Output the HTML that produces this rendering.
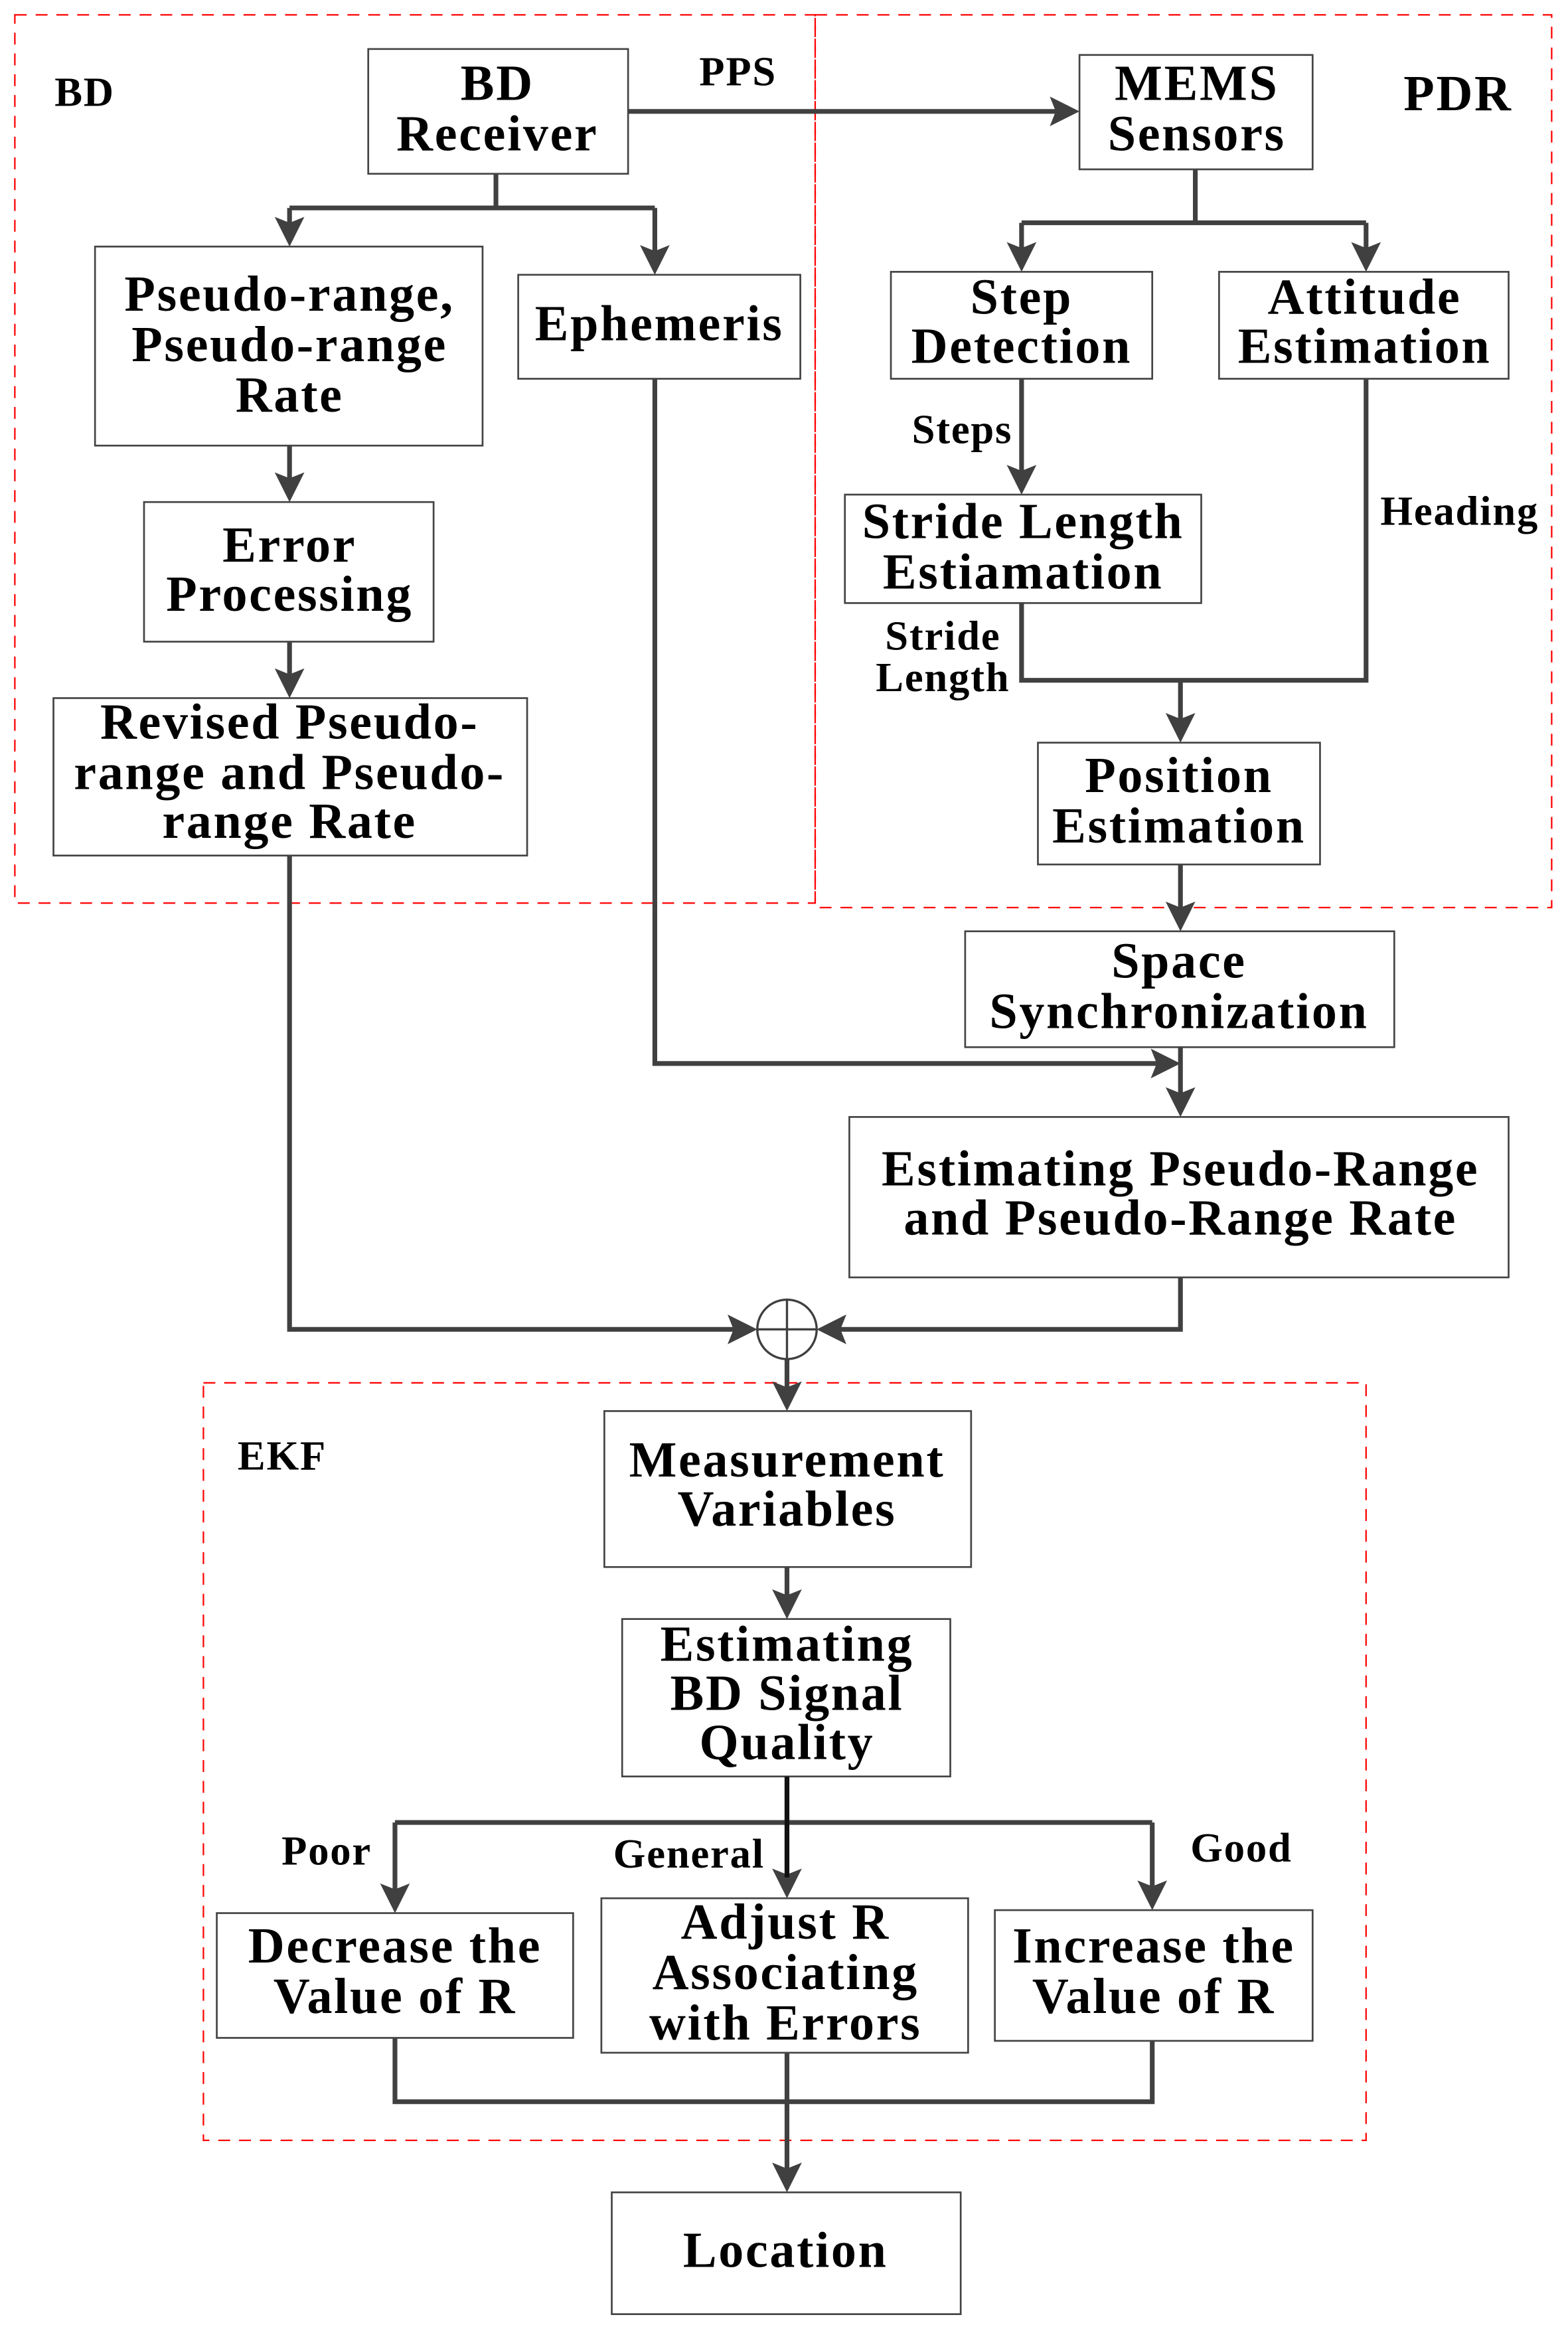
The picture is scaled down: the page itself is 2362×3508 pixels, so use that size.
<!DOCTYPE html>
<html><head><meta charset="utf-8"><style>html,body{margin:0;padding:0;background:#fff}svg{display:block}</style></head><body>
<svg width="2362" height="3508" viewBox="0 0 1056 1568" preserveAspectRatio="none" xmlns="http://www.w3.org/2000/svg">
<style>
.b{fill:#fff;stroke:#444;stroke-width:1.2}
.l{fill:none;stroke:#404040;stroke-width:3.2}
.d{fill:none;stroke:#f00;stroke-width:1;stroke-dasharray:8,6}
text{font-family:"Liberation Serif",serif;font-weight:bold;fill:#000;text-anchor:middle;dominant-baseline:central}
.t{font-size:34px;letter-spacing:1.2px}
.s{font-size:28px;letter-spacing:0.8px}
.ah{fill:#404040}
</style>
<rect class="d" x="10" y="10" width="539" height="598"/>
<rect class="d" x="549" y="10" width="496" height="601"/>
<rect class="d" x="137" y="931" width="783" height="510"/>

<g class="l">
<path d="M423 75H715"/>
<path d="M334 117V140M195 140H441M195 140V154M441 140V173"/>
<path d="M195 300V326M195 432V458"/>
<path d="M195 576V895H498"/>
<path d="M441 255V716H783"/>
<path d="M805 114V150M688 150H920M688 150V171M920 150V171"/>
<path d="M688 255V321"/>
<path d="M920 255V458H688V406M795 458V488"/>
<path d="M795 582V615M795 705V740"/>
<path d="M795 860V895H562"/>
<path d="M530 915V938M530 1055V1078"/>
<path d="M530 1196V1264M266 1227H776M266 1227V1276M776 1227V1274"/>
<path d="M266 1372V1415H776V1374M530 1382V1462"/>
</g>
<g class="ah">
<path d="M727 75L707 65L711 75L707 85Z"/>
<path d="M195 166L185 146L195 150L205 146Z"/>
<path d="M441 185L431 165L441 169L451 165Z"/>
<path d="M195 338L185 318L195 322L205 318Z"/>
<path d="M195 470L185 450L195 454L205 450Z"/>
<path d="M510 895L490 885L494 895L490 905Z"/>
<path d="M795 716L775 706L779 716L775 726Z"/>
<path d="M688 183L678 163L688 167L698 163Z"/>
<path d="M920 183L910 163L920 167L930 163Z"/>
<path d="M688 333L678 313L688 317L698 313Z"/>
<path d="M795 500L785 480L795 484L805 480Z"/>
<path d="M795 627L785 607L795 611L805 607Z"/>
<path d="M795 752L785 732L795 736L805 732Z"/>
<path d="M550 895L570 885L566 895L570 905Z"/>
<path d="M530 950L520 930L530 934L540 930Z"/>
<path d="M530 1090L520 1070L530 1074L540 1070Z"/>
<path d="M530 1278L520 1258L530 1262L540 1258Z"/>
<path d="M266 1288L256 1268L266 1272L276 1268Z"/>
<path d="M776 1286L766 1266L776 1270L786 1266Z"/>
<path d="M530 1476L520 1456L530 1460L540 1456Z"/>
</g>
<circle cx="530" cy="895" r="20" fill="#fff" stroke="#404040" stroke-width="1.5"/>
<path d="M510 895H550M530 875V915" stroke="#404040" stroke-width="1.5"/>

<rect class="b" x="248" y="33" width="175" height="84"/>
<text class="t" x="335" y="56">BD</text><text class="t" x="335" y="90">Receiver</text>
<rect class="b" x="727" y="37" width="157" height="77"/>
<text class="t" x="806" y="56">MEMS</text><text class="t" x="806" y="90">Sensors</text>
<rect class="b" x="64" y="166" width="261" height="134"/>
<text class="t" x="195" y="198">Pseudo-range,</text><text class="t" x="195" y="232">Pseudo-range</text><text class="t" x="195" y="266">Rate</text>
<rect class="b" x="349" y="185" width="190" height="70"/>
<text class="t" x="444" y="218">Ephemeris</text>
<rect class="b" x="97" y="338" width="195" height="94"/>
<text class="t" x="195" y="367">Error</text><text class="t" x="195" y="400">Processing</text>
<rect class="b" x="36" y="470" width="319" height="106"/>
<text class="t" x="195" y="486">Revised Pseudo-</text><text class="t" x="195" y="520">range and Pseudo-</text><text class="t" x="195" y="553">range Rate</text>
<rect class="b" x="600" y="183" width="176" height="72"/>
<text class="t" x="688" y="200">Step</text><text class="t" x="688" y="233">Detection</text>
<rect class="b" x="821" y="183" width="195" height="72"/>
<text class="t" x="919" y="200">Attitude</text><text class="t" x="919" y="233">Estimation</text>
<rect class="b" x="569" y="333" width="240" height="73"/>
<text class="t" x="689" y="351">Stride Length</text><text class="t" x="689" y="385">Estiamation</text>
<rect class="b" x="699" y="500" width="190" height="82"/>
<text class="t" x="794" y="522">Position</text><text class="t" x="794" y="556">Estimation</text>
<rect class="b" x="650" y="627" width="289" height="78"/>
<text class="t" x="794" y="647">Space</text><text class="t" x="794" y="681">Synchronization</text>
<rect class="b" x="572" y="752" width="444" height="108"/>
<text class="t" x="795" y="787">Estimating Pseudo-Range</text><text class="t" x="795" y="820">and Pseudo-Range Rate</text>
<rect class="b" x="407" y="950" width="247" height="105"/>
<text class="t" x="530" y="983">Measurement</text><text class="t" x="530" y="1016">Variables</text>
<rect class="b" x="419" y="1090" width="221" height="106"/>
<text class="t" x="530" y="1107">Estimating</text><text class="t" x="530" y="1140">BD Signal</text><text class="t" x="530" y="1173">Quality</text>
<rect class="b" x="146" y="1288" width="240" height="84"/>
<text class="t" x="266" y="1310">Decrease the</text><text class="t" x="266" y="1344">Value of R</text>
<rect class="b" x="405" y="1278" width="247" height="104"/>
<text class="t" x="529" y="1294">Adjust R</text><text class="t" x="529" y="1328">Associating</text><text class="t" x="529" y="1362">with Errors</text>
<rect class="b" x="670" y="1286" width="214" height="88"/>
<text class="t" x="777" y="1310">Increase the</text><text class="t" x="777" y="1344">Value of R</text>
<rect class="b" x="412" y="1476" width="235" height="82"/>
<text class="t" x="529" y="1515">Location</text>
<path d="M530 1196V1264" stroke="#111" stroke-width="3.2"/>

<text class="s" x="57" y="62">BD</text>
<text class="s" x="497" y="48">PPS</text>
<text class="t" x="982" y="63">PDR</text>
<text class="s" x="648" y="289">Steps</text>
<text class="s" x="983" y="344">Heading</text>
<text class="s" x="635" y="428">Stride</text><text class="s" x="635" y="456">Length</text>
<text class="s" x="190" y="980">EKF</text>
<text class="s" x="220" y="1246">Poor</text>
<text class="s" x="464" y="1248">General</text>
<text class="s" x="836" y="1244">Good</text>
</svg>
</body></html>
